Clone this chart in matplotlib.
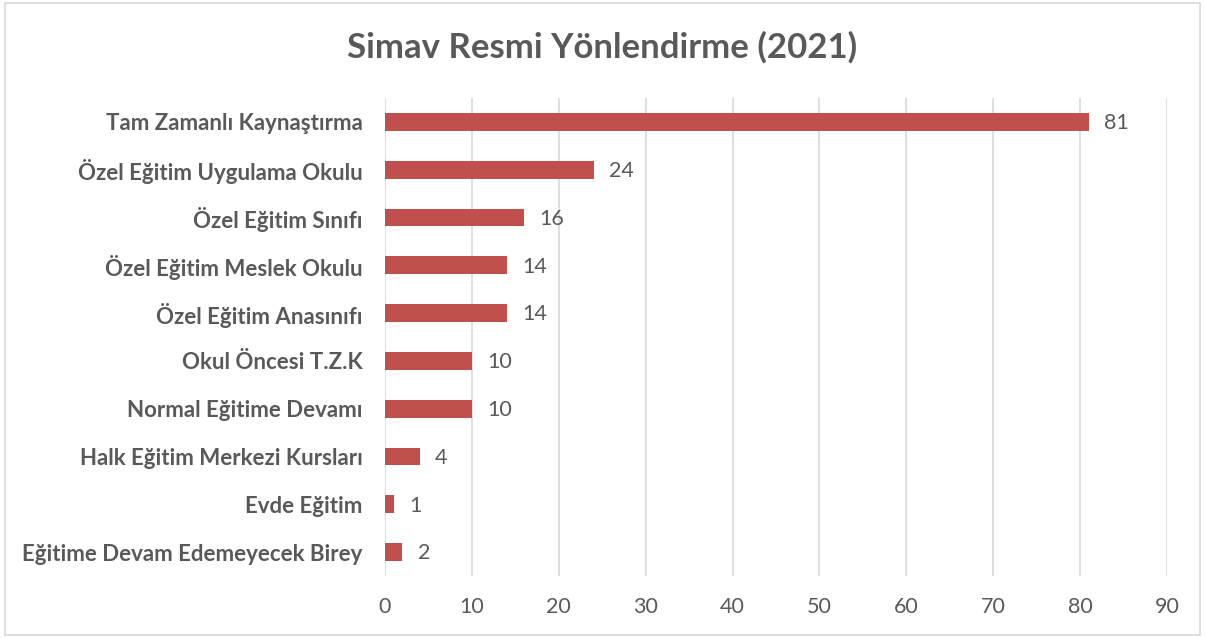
import matplotlib
matplotlib.use("Agg")
import matplotlib.pyplot as plt
from matplotlib.patches import Rectangle

categories = ["Tam Zamanlı Kaynaştırma", "Özel Eğitim Uygulama Okulu", "Özel Eğitim Sınıfı",
              "Özel Eğitim Meslek Okulu", "Özel Eğitim Anasınıfı", "Okul Öncesi T.Z.K",
              "Normal Eğitime Devamı", "Halk Eğitim Merkezi Kursları", "Evde Eğitim",
              "Eğitime Devam Edemeyecek Birey"]
values = [81, 24, 16, 14, 14, 10, 10, 4, 1, 2]
xticks = [0, 10, 20, 30, 40, 50, 60, 70, 80, 90]
title = "Simav Resmi Yönlendirme (2021)"

plt.rcParams['font.family'] = ['Lato', 'DejaVu Sans']
grey = "#595959"

fig = plt.figure(figsize=(12.05, 6.38), dpi=100)
ax = fig.add_axes([385/1205, 1-576/638, (1167-385)/1205, (576-98)/638])

ypos = list(range(len(categories)))[::-1]
ax.barh(ypos, values, height=0.37, color="#C0504D", zorder=3)
for y, v in zip(ypos, values):
    ax.annotate(str(v), (v, y), xytext=(11, -1), textcoords="offset points",
                va="center", ha="left", fontsize=15.5, color=grey)

ax.set_xlim(0, 90)
ax.set_ylim(-0.5, len(categories) - 0.5)
ax.set_xticks(xticks)
ax.set_xticklabels([str(t) for t in xticks], fontsize=15.5, color=grey)
ax.set_yticks(ypos)
ax.set_yticklabels(categories, fontsize=16, color=grey, fontweight="bold")
ax.tick_params(axis="both", length=0)
ax.tick_params(axis="x", pad=15)
ax.tick_params(axis="y", pad=16)
ax.grid(axis="x", color="#D9D9D9", linewidth=1.2, zorder=0)
for s in ax.spines.values():
    s.set_visible(False)

fig.text(0.5, 1-47/638, title, ha="center", va="center",
         fontsize=25, fontweight="bold", color=grey)
fig.patches.append(Rectangle((0.004, 0.004), 0.992, 0.992, transform=fig.transFigure,
                             fill=False, edgecolor="#D9D9D9", linewidth=1.2))

fig.savefig("out.png", dpi=100)
